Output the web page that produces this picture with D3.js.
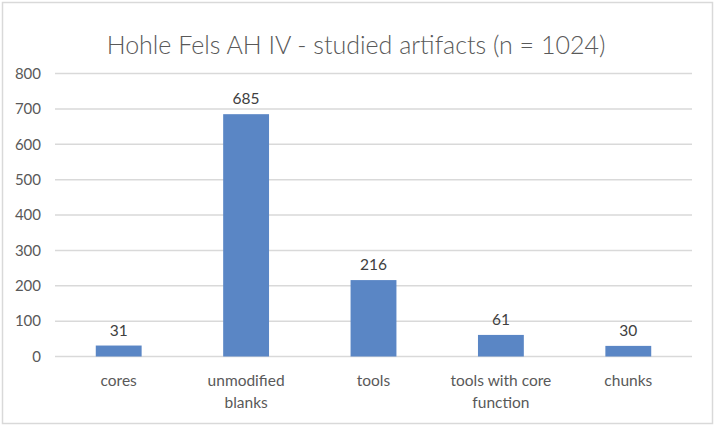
<!DOCTYPE html>
<html>
<head>
<meta charset="utf-8">
<script src="https://cdn.jsdelivr.net/npm/d3@7"></script>
<style>
  body { margin: 0; background: #fff; }
  text { font-family: Lato, "Open Sans", sans-serif; }
</style>
</head>
<body>
<script>
// chart data
var categories = [["cores"], ["unmodified", "blanks"], ["tools"],
                  ["tools with core", "function"], ["chunks"]];
var counts = [31, 685, 216, 61, 30];
var yTicks = [0, 100, 200, 300, 400, 500, 600, 700, 800];
var title = "Hohle Fels AH IV - studied artifacts (n = 1024)";

var W = 715, H = 426;
var margin = {top: 73.5, right: 23, bottom: 69.5, left: 55};
var width = W - margin.left - margin.right,
    height = H - margin.top - margin.bottom;

var svg = d3.select("body").append("svg")
    .attr("width", W)
    .attr("height", H);

// outer chart border
svg.append("rect")
    .attr("x", 2.5).attr("y", 2.5)
    .attr("width", W - 5).attr("height", H - 5)
    .attr("fill", "#fff")
    .attr("stroke", "#d9d9d9")
    .attr("stroke-width", 1.5);

svg.append("text")
    .attr("x", 356)
    .attr("y", 54)
    .attr("text-anchor", "middle")
    .attr("font-size", 25)
    .attr("font-weight", 300)
    .attr("fill", "#595959")
    .text(title);

var g = svg.append("g")
    .attr("transform", "translate(" + margin.left + "," + margin.top + ")");

var x = d3.scaleBand()
    .domain(d3.range(counts.length))
    .range([0, width])
    .paddingInner(0.64)
    .paddingOuter(0.32);

var y = d3.scaleLinear().domain([0, 800]).range([height, 0]);

// gridlines
g.selectAll(".grid")
    .data(yTicks)
    .enter().append("line")
    .attr("x1", 0).attr("x2", width)
    .attr("y1", function(d) { return y(d); })
    .attr("y2", function(d) { return y(d); })
    .attr("stroke", "#d9d9d9")
    .attr("stroke-width", 1.5);

// y axis labels
var yAxis = d3.axisLeft(y).tickValues(yTicks).tickSize(0).tickPadding(14);
var ga = g.append("g").call(yAxis);
ga.select(".domain").remove();
ga.selectAll("text")
    .attr("font-size", 15)
    .attr("fill", "#595959")
    .style("font-family", "Lato, 'Open Sans', sans-serif");

// bars
g.selectAll(".bar")
    .data(counts)
    .enter().append("rect")
    .attr("x", function(d, i) { return x(i); })
    .attr("y", function(d) { return y(d); })
    .attr("width", x.bandwidth())
    .attr("height", function(d) { return height - y(d); })
    .attr("fill", "#5a86c5");

// value labels
g.selectAll(".val")
    .data(counts)
    .enter().append("text")
    .attr("x", function(d, i) { return x(i) + x.bandwidth() / 2; })
    .attr("y", function(d) { return y(d) - 10; })
    .attr("text-anchor", "middle")
    .attr("font-size", 15.5)
    .attr("fill", "#404040")
    .text(function(d) { return d; });

// category labels
categories.forEach(function(lines, i) {
    var t = g.append("text")
        .attr("text-anchor", "middle")
        .attr("font-size", 15.5)
        .attr("fill", "#595959");
    lines.forEach(function(line, j) {
        t.append("tspan")
            .attr("x", x(i) + x.bandwidth() / 2)
            .attr("y", height + 29 + j * 22.5)
            .text(line);
    });
});
</script>
</body>
</html>
